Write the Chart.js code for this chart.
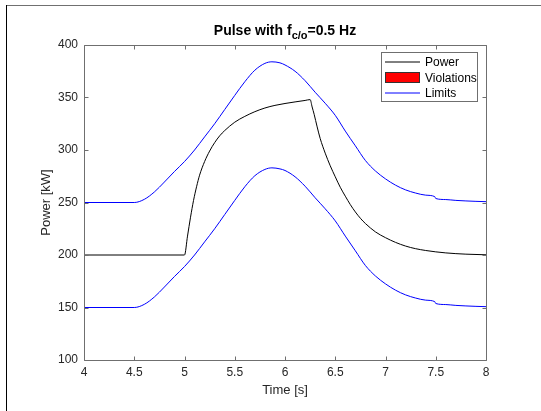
<!DOCTYPE html>
<html>
<head>
<meta charset="utf-8">
<style>
  html, body { margin: 0; padding: 0; background: #ffffff; }
  #wrap { position: relative; width: 541px; height: 411px; }
  canvas { display: block; }
</style>
<script src="https://cdn.jsdelivr.net/npm/chart.js@4/dist/chart.umd.min.js"></script>
</head>
<body>
<div id="wrap"><canvas id="c" width="541" height="411"></canvas></div>
<script>
// ---------- data ----------
const chartTitleMain = "Pulse with f";
const chartTitleSub = "c/o";
const chartTitleTail = "=0.5 Hz";
const xAxisLabel = "Time [s]";
const yAxisLabel = "Power [kW]";
const legendLabels = ["Power", "Violations", "Limits"];

const xTickValues = [4, 4.5, 5, 5.5, 6, 6.5, 7, 7.5, 8];
const yTickValues = [100, 150, 200, 250, 300, 350, 400];

const powerTimes = [4.0, 5.0, 5.03, 5.06, 5.09, 5.12, 5.15, 5.20, 5.25, 5.30, 5.35, 5.40, 5.50, 5.60, 5.70, 5.80, 5.90, 6.00, 6.10, 6.20, 6.25,
  6.27, 6.29, 6.32, 6.35, 6.40, 6.45, 6.50, 6.55, 6.60, 6.65, 6.70, 6.75, 6.80, 6.90, 7.00, 7.10, 7.20, 7.30, 7.40, 7.50, 7.60, 7.70, 7.80, 8.00];
const powerValues = [200, 200, 218, 236, 252, 265, 276, 289, 299, 307, 313.5, 318.5, 326.5, 332, 336.5, 340, 342.5, 344.3, 345.8, 347.2, 348,
  341, 334, 322, 311, 297, 285, 274.5, 264.5, 256, 248, 241, 235, 230, 222, 216.5, 212, 208.5, 206, 204.3, 203, 202, 201.3, 200.8, 200.2];

const limitTimes = [4.0, 4.5, 4.6, 4.7, 4.8, 4.9, 5.0, 5.1, 5.2, 5.3, 5.4, 5.5, 5.6, 5.7, 5.8, 5.87, 5.95, 6.0, 6.1, 6.2, 6.3, 6.4, 6.5,
  6.6, 6.7, 6.8, 6.9, 7.0, 7.1, 7.2, 7.3, 7.4, 7.49, 7.5, 7.6, 7.7, 7.8, 7.9, 8.0];
const upperLimit = [250, 250, 253, 260, 269.5, 279.5, 289, 300, 312.5, 325, 338.5, 352, 365, 376, 382.5, 384, 383, 381, 375, 366, 355, 344.5, 333,
  318, 304, 290, 280, 272.5, 266.5, 262, 259, 257, 255.6, 253.8, 252.8, 252, 251.5, 251.1, 250.8];
const lowerLimit = [150, 150, 153, 160, 169.5, 179.5, 189, 200, 212.5, 225, 238.5, 252, 265, 275.5, 281.5, 283, 282, 280.5, 274.5, 265.5, 254.5, 244, 232.5,
  218, 204, 190, 180, 172.5, 166.5, 162, 159, 157, 155.6, 153.8, 152.8, 152, 151.5, 151.1, 150.8];

// ---------- build chart ----------
const FONT = "'Liberation Sans', Arial, Helvetica, sans-serif";
const TXT = '#262626';
const AXC = '#6f6f6f';
const POWER_COLOR = '#000000';
const VIOL_COLOR = '#ff0000';
const LIMIT_COLOR = '#0000ff';

function pts(xs, ys) { return xs.map((x, i) => ({ x: x, y: ys[i] })); }

const framePlugin = {
  id: 'frame',
  beforeDraw(chart) {
    const c = chart.ctx;
    c.save();
    c.fillStyle = '#ffffff';
    c.fillRect(0, 0, chart.width, chart.height);
    c.fillStyle = '#707070';
    c.fillRect(6, 5, chart.width - 6, 1);
    c.fillStyle = '#000000';
    c.fillRect(6, 5, 1, chart.height - 5);
    c.restore();
  },
  afterDatasetsDraw(chart) {
    const c = chart.ctx, a = chart.chartArea;
    const xs = chart.scales.x, ys = chart.scales.y;
    const L = Math.round(a.left) + 0.5, R = Math.round(a.right) + 0.5;
    const T = Math.round(a.top) + 0.5, B = Math.round(a.bottom) + 0.5;
    c.save();
    c.strokeStyle = AXC; c.lineWidth = 1;
    c.beginPath();
    c.rect(L, T, R - L, B - T);
    const tl = 4;
    xs.ticks.forEach(t => {
      const px = Math.round(xs.getPixelForValue(t.value)) + 0.5;
      c.moveTo(px, B); c.lineTo(px, B - tl);
      c.moveTo(px, T); c.lineTo(px, T + tl);
    });
    ys.ticks.forEach(t => {
      const py = Math.round(ys.getPixelForValue(t.value)) + 0.5;
      c.moveTo(L, py); c.lineTo(L + tl, py);
      c.moveTo(R, py); c.lineTo(R - tl, py);
    });
    c.stroke();

    // title with subscript
    const cx = (a.left + a.right) / 2;
    const fMain = 'bold 14px ' + FONT, fSub = 'bold 11px ' + FONT;
    c.font = fMain; const w1 = c.measureText(chartTitleMain).width;
    const w3 = c.measureText(chartTitleTail).width;
    c.font = fSub; const w2 = c.measureText(chartTitleSub).width;
    let x0 = cx - (w1 + w2 + w3) / 2;
    const base = 35;
    c.fillStyle = '#000000'; c.textBaseline = 'alphabetic'; c.textAlign = 'left';
    c.font = fMain; c.fillText(chartTitleMain, x0, base);
    c.font = fSub; c.fillText(chartTitleSub, x0 + w1, base + 4);
    c.font = fMain; c.fillText(chartTitleTail, x0 + w1 + w2, base);

    // legend
    const bx = 381.5, by = 52.5, bw = 96, bh = 49;
    c.fillStyle = '#ffffff'; c.fillRect(bx, by, bw, bh);
    c.strokeStyle = AXC; c.lineWidth = 1; c.strokeRect(bx, by, bw, bh);
    const rows = [62, 77.5, 93];
    const sx0 = 385, sx1 = 420, tx = 425;
    c.lineWidth = 1;
    c.strokeStyle = POWER_COLOR;
    c.beginPath(); c.moveTo(sx0, rows[0]); c.lineTo(sx1, rows[0]); c.stroke();
    c.fillStyle = '#333333'; c.fillRect(sx0, 72, sx1 - sx0, 11);
    c.fillStyle = VIOL_COLOR; c.fillRect(sx0 + 1, 73, sx1 - sx0 - 2, 9);
    c.strokeStyle = LIMIT_COLOR;
    c.beginPath(); c.moveTo(sx0, rows[2]); c.lineTo(sx1, rows[2]); c.stroke();
    c.fillStyle = '#000000'; c.font = '12px ' + FONT; c.textBaseline = 'middle';
    legendLabels.forEach((lab, i) => c.fillText(lab, tx, rows[i] + 1));
    c.restore();
  }
};

new Chart(document.getElementById('c'), {
  type: 'line',
  data: {
    datasets: [
      { label: legendLabels[0], data: pts(powerTimes, powerValues), borderColor: POWER_COLOR, borderWidth: 1, pointRadius: 0, cubicInterpolationMode: 'monotone', fill: false },
      { label: legendLabels[1], data: [], borderColor: '#000000', backgroundColor: VIOL_COLOR, pointRadius: 0 },
      { label: legendLabels[2], data: pts(limitTimes, upperLimit), borderColor: LIMIT_COLOR, borderWidth: 1, pointRadius: 0, cubicInterpolationMode: 'monotone', fill: false },
      { label: legendLabels[2] + ' (lower)', data: pts(limitTimes, lowerLimit), borderColor: LIMIT_COLOR, borderWidth: 1, pointRadius: 0, cubicInterpolationMode: 'monotone', fill: false }
    ]
  },
  options: {
    responsive: false,
    animation: false,
    devicePixelRatio: 1,
    layout: { padding: { left: 0, right: 55, top: 45, bottom: 0 } },
    plugins: { legend: { display: false }, title: { display: false }, tooltip: { enabled: false } },
    scales: {
      x: {
        type: 'linear', min: 4, max: 8,
        afterBuildTicks(s) { s.ticks = xTickValues.map(v => ({ value: v })); },
        ticks: { color: TXT, font: { family: FONT, size: 12 }, padding: 5, maxRotation: 0, autoSkip: false, callback: v => String(v) },
        grid: { display: false, drawTicks: false },
        border: { display: false },
        title: { display: true, text: xAxisLabel, color: TXT, font: { family: FONT, size: 13 }, padding: { top: 0, bottom: 13 } },
        afterFit(s) { s.height = 51; }
      },
      y: {
        type: 'linear', min: 100, max: 400,
        afterBuildTicks(s) { s.ticks = yTickValues.map(v => ({ value: v })); },
        ticks: { color: TXT, font: { family: FONT, size: 12 }, padding: 6, autoSkip: false, callback: v => String(v) },
        grid: { display: false, drawTicks: false },
        border: { display: false },
        title: { display: true, text: yAxisLabel, color: TXT, font: { family: FONT, size: 13 }, padding: { top: 39, bottom: 0 } },
        afterFit(s) { s.width = 84; }
      }
    }
  },
  plugins: [framePlugin]
});
</script>
</body>
</html>
